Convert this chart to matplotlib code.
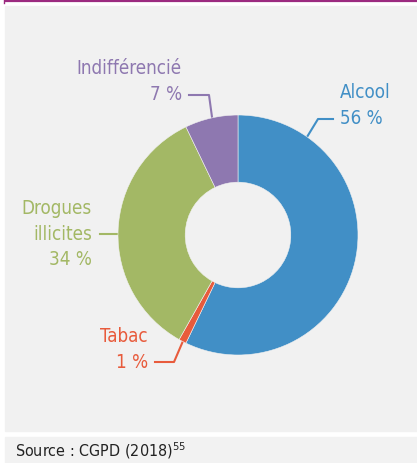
"""Donut chart: share of categories (CGPD 2018)."""

import matplotlib
matplotlib.use("Agg")
import matplotlib.pyplot as plt
from matplotlib.patches import Rectangle

plt.rcParams["font.family"] = ["DejaVu Sans"]
plt.rcParams["font.stretch"] = "condensed"
plt.rcParams["mathtext.fontset"] = "custom"
plt.rcParams["mathtext.rm"] = "DejaVu Sans:stretch=condensed"

# Data
labels = ["Alcool", "Tabac", "Drogues\nillicites", "Indifférencié"]
values = [56, 1, 34, 7]
colors = ["#418fc6", "#e85b3c", "#a3b865", "#8e78b0"]

W, H = 417, 463
fig = plt.figure(figsize=(W / 100, H / 100), dpi=100, facecolor="white")

# Overlay axes in pixel coordinates for panel, labels and leader lines
bg = fig.add_axes([0, 0, 1, 1])
bg.set_xlim(0, W)
bg.set_ylim(H, 0)
bg.axis("off")
bg.add_patch(Rectangle((5, 6), W - 5, 425, color="#f1f1f1", zorder=0))
bg.add_patch(Rectangle((5, 437), W - 5, H - 437, color="#f2f2f2", zorder=0))
bg.plot([4, W], [1, 1], color="#9c2a80", lw=1.6, solid_capstyle="butt")
bg.plot([4.5, 4.5], [0, 3], color="#9c2a80", lw=1.0)

# Donut
cx, cy, r = 238, 235, 120
ax = fig.add_axes([(cx - r) / W, 1 - (cy + r) / H, 2 * r / W, 2 * r / H])
ax.pie(
    values,
    colors=colors,
    startangle=90,
    counterclock=False,
    radius=1,
    wedgeprops=dict(width=0.56, edgecolor="#f1f1f1", linewidth=0.4),
)
ax.set_xlim(-1, 1)
ax.set_ylim(-1, 1)
ax.set_aspect("auto")
ax.axis("off")

fs = 13.5
kw = dict(fontsize=fs, fontstretch="condensed", va="center")
# Labels with leader lines (pixel coordinates)
bg.text(340, 92, "Alcool", color=colors[0], ha="left", **kw)
bg.text(340, 118, f"{values[0]} %", color=colors[0], ha="left", **kw)
bg.plot([333, 318, 307], [119, 119, 137], color=colors[0], lw=1.5)

bg.text(148, 337, "Tabac", color=colors[1], ha="right", **kw)
bg.text(148, 362, f"{values[1]} %", color=colors[1], ha="right", **kw)
bg.plot([155, 174, 183], [362, 362, 341], color=colors[1], lw=1.5)

bg.text(92, 234, labels[2] + f"\n{values[2]} %", color=colors[2],
        ha="right", multialignment="right", linespacing=1.45, **kw)
bg.plot([100, 118], [234, 234], color=colors[2], lw=1.5)

bg.text(182, 69, labels[3], color=colors[3], ha="right", **kw)
bg.text(182, 95, f"{values[3]} %", color=colors[3], ha="right", **kw)
bg.plot([189, 209, 212], [95, 95, 117], color=colors[3], lw=1.5)

# Source
bg.text(15, 451, "Source : CGPD (2018)$^{55}$", color="#222222", fontsize=11.5,
        fontstretch="condensed", ha="left", va="center")

fig.savefig("out.png", dpi=100, facecolor="white")
